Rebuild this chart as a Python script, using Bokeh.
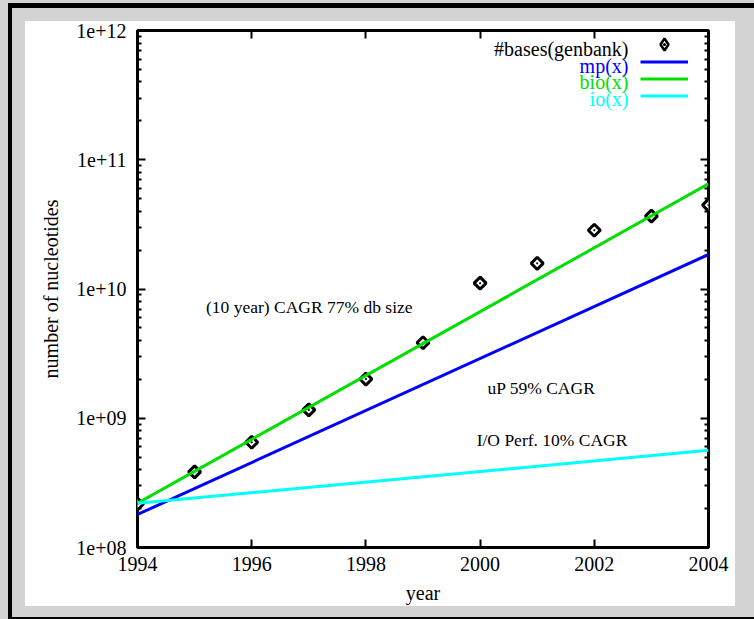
from bokeh.plotting import figure
from bokeh.models import (FixedTicker, LinearAxis, LogAxis, CustomJSTickFormatter,
                          CustomLabelingPolicy, Label, Legend, LegendItem, Range1d)
from bokeh.embed import file_html
from bokeh.resources import INLINE

# ---------------- data ----------------
years = [1994, 1995, 1996, 1997, 1998, 1999, 2000, 2001, 2002, 2003, 2004]
genbank_bases = [2.17e8, 3.85e8, 6.52e8, 1.16e9, 2.01e9, 3.84e9,
                 1.11e10, 1.58e10, 2.85e10, 3.66e10, 4.46e10]

line_years = [1994, 2004]
mp_values = [1.80e8, 1.85e10]    # uP 59% CAGR
bio_values = [2.20e8, 6.50e10]   # db size 77% CAGR
io_values = [2.20e8, 5.65e8]     # I/O 10% CAGR

x_ticks = [1994, 1996, 1998, 2000, 2002, 2004]
y_ticks = [1e8, 1e9, 1e10, 1e11, 1e12]
y_minor = [m * 10.0 ** e for e in range(8, 12) for m in range(2, 10)]

series_labels = ["#bases(genbank)", "mp(x)", "bio(x)", "io(x)"]
annotations = ["(10 year) CAGR 77% db size", "uP 59% CAGR", "I/O Perf. 10% CAGR"]

FONT = "Liberation Serif"
BLUE = "#0000ff"
GREEN = "#00e000"
CYAN = "#00ffff"
GRAY = "#d3d3d3"

# the figure is the white panel; the grey page and black frame are drawn around it
p = figure(width=710, height=585, y_axis_type="log",
           x_range=Range1d(1994, 2004), y_range=Range1d(1e8, 1e12),
           output_backend="svg", toolbar_location=None,
           min_border_left=112, min_border_right=27,
           min_border_top=9, min_border_bottom=58)
p.styles = {
    "margin": "21px 0 0 25px",
    "box-shadow": (f"-1px -1px 0 12px {GRAY}, 8px -1px 0 12px {GRAY}, "
                   f"3px 2px 0 20px black, 0 0 0 200px {GRAY}"),
}
p.border_fill_color = "white"
p.background_fill_color = "white"
p.outline_line_color = "black"
p.outline_line_width = 3
p.xgrid.visible = False
p.ygrid.visible = False

no_labels = CustomLabelingPolicy(code="for (const i of indices) indices.unset(i)")

def style_axis(ax, labels=True):
    ax.axis_line_color = None
    ax.major_tick_in = 8
    ax.major_tick_out = 0
    ax.minor_tick_in = 4
    ax.minor_tick_out = 0
    ax.major_tick_line_width = 2
    ax.minor_tick_line_width = 2
    ax.major_tick_line_color = "black"
    ax.minor_tick_line_color = "black"
    ax.major_label_text_font = FONT
    ax.major_label_text_color = "black"
    if labels:
        ax.major_label_text_font_size = "20px"
    else:
        ax.major_label_policy = no_labels
        ax.major_label_text_font_size = "2px"
        ax.major_label_standoff = 0

def style_title(ax, text, standoff):
    ax.axis_label = text
    ax.axis_label_text_font = FONT
    ax.axis_label_text_font_size = "20px"
    ax.axis_label_text_font_style = "normal"
    ax.axis_label_text_color = "black"
    ax.axis_label_standoff = standoff

fmt = CustomJSTickFormatter(code="""
const e = Math.round(Math.log10(tick));
return "1e+" + (e < 10 ? "0" : "") + e;
""")

# bottom
xa = p.xaxis[0]
xa.ticker = FixedTicker(ticks=x_ticks)
style_axis(xa)
xa.minor_tick_line_color = None
xa.major_label_standoff = 9
style_title(xa, "year", 8)

# left
ya = p.yaxis[0]
ya.ticker = FixedTicker(ticks=y_ticks, minor_ticks=y_minor)
ya.formatter = fmt
style_axis(ya)
ya.major_label_standoff = 11
style_title(ya, "number of nucleotides", 11)

# mirrored top/right ticks
top_ax = LinearAxis(ticker=FixedTicker(ticks=x_ticks))
style_axis(top_ax, labels=False)
top_ax.minor_tick_line_color = None
p.add_layout(top_ax, "above")
right_ax = LogAxis(ticker=FixedTicker(ticks=y_ticks, minor_ticks=y_minor))
style_axis(right_ax, labels=False)
p.add_layout(right_ax, "right")

# glyphs
r_pts = p.scatter(years, genbank_bases, marker="square_dot", size=8.5, angle=45,
                  angle_units="deg", line_color="black", line_width=3,
                  fill_color="white")
r_mp = p.line(line_years, mp_values, line_color=BLUE, line_width=3)
r_bio = p.line(line_years, bio_values, line_color=GREEN, line_width=3)
r_io = p.line(line_years, io_values, line_color=CYAN, line_width=3)
# hidden copy of the points, only used for the (unrotated) legend sample
r_pts_key = p.scatter(years, genbank_bases, marker="diamond_dot", line_color="black",
                      line_width=2.5, fill_color="white", visible=False)

# legend samples (labels drawn separately, right-aligned to their left)
common = dict(glyph_width=48, spacing=0, padding=0, margin=0, label_width=1,
              label_standoff=0, label_text_font_size="10px", label_text_alpha=0,
              border_line_color=None, background_fill_alpha=0,
              inactive_fill_alpha=0)
key_pts = Legend(items=[LegendItem(label=" ", renderers=[r_pts_key])],
                 location=(503, 488), glyph_height=30, label_height=30, **common)
key_lines = Legend(items=[LegendItem(label=" ", renderers=[r]) for r in (r_mp, r_bio, r_io)],
                   location=(503, 443), glyph_height=17, label_height=17, **common)
p.add_layout(key_pts)
p.add_layout(key_lines)

label_colors = ["black", BLUE, GREEN, CYAN]
label_offsets = [-18, -35, -51, -68]
for txt, col, off in zip(series_labels, label_colors, label_offsets):
    p.add_layout(Label(x=2004, y=1e12, x_offset=-80, y_offset=off, text=txt,
                       text_align="right", text_baseline="middle",
                       text_font=FONT, text_font_size="20px", text_color=col))

# annotation texts
ann_pos = [(1995.2, 7.2e9), (2000.13, 1.72e9), (1999.94, 6.8e8)]
for txt, (ax_, ay_) in zip(annotations, ann_pos):
    p.add_layout(Label(x=ax_, y=ay_, text=txt, text_align="left",
                       text_baseline="alphabetic", text_font=FONT,
                       text_font_size="17.5px", text_color="black"))

open("out.html", "w").write(file_html(p, INLINE))
